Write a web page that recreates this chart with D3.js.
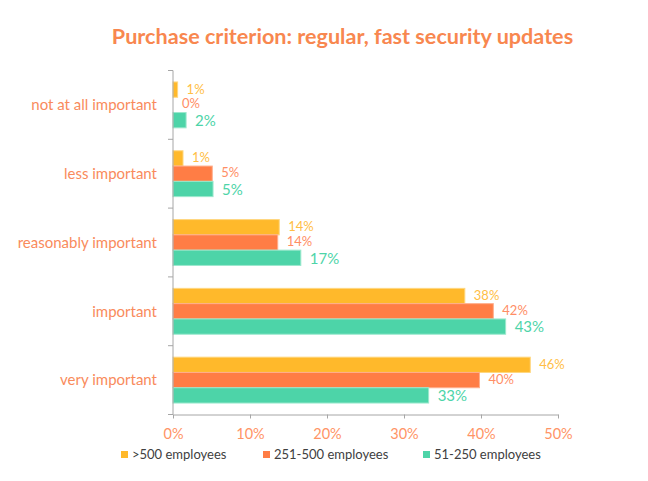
<!DOCTYPE html>
<html><head><meta charset="utf-8">
<script src="https://cdn.jsdelivr.net/npm/d3@7"></script>
<style>body{margin:0;background:#fff}svg{display:block}</style>
</head><body>
<svg id="chart" width="648" height="481"></svg>
<script>
const categories = ["not at all important","less important","reasonably important","important","very important"];
const seriesNames = [">500 employees","251-500 employees","51-250 employees"];
const values500 = [0.6, 1.3, 13.8, 37.9, 46.4];
const values251 = [0, 5.1, 13.6, 41.6, 39.8];
const values51 = [1.7, 5.2, 16.6, 43.2, 33.2];
const labels500 = ["1%","1%","14%","38%","46%"];
const labels251 = ["0%","5%","14%","42%","40%"];
const labels51 = ["2%","5%","17%","43%","33%"];
const xTicks = [0,10,20,30,40,50];

const series = [
  {name: seriesNames[0], values: values500, labels: labels500, fill:"#FFB92B", stroke:"#FFD77F", text:"#FFBE45", size:13, dy:-0.5},
  {name: seriesNames[1], values: values251, labels: labels251, fill:"#FF7D45", stroke:"#FFAE8C", text:"#FF8E65", size:13, dy:-1},
  {name: seriesNames[2], values: values51, labels: labels51, fill:"#4DD4A8", stroke:"#9BE8CD", text:"#4DD4A8", size:15, dy:0.5}
];

const font = "Lato, 'Open Sans', sans-serif";
const svg = d3.select("#chart");
const x = d3.scaleLinear().domain([0,50]).range([173,558]);
const y = d3.scaleBand().domain(categories).range([70.5,414.5]).padding(0);
const yi = d3.scaleBand().domain(seriesNames).range([0,y.bandwidth()]).paddingInner(0).paddingOuter(0.75);

svg.append("text").attr("x",342.5).attr("y",43.5).attr("text-anchor","middle")
  .attr("font-family",font).attr("font-weight","bold").attr("font-size",21.6)
  .attr("fill","#F8874F").text("Purchase criterion: regular, fast security updates");

// bars
series.forEach(s => {
  const g = svg.append("g");
  g.selectAll("rect").data(categories).join("rect")
    .attr("x", x(0))
    .attr("y", (c)=> y(c)+yi(s.name))
    .attr("width", (c,i)=> Math.max(0, x(s.values[i])-x(0)))
    .attr("height", yi.bandwidth())
    .attr("fill", s.fill)
    .attr("stroke", (c,i)=> s.values[i] > 0 ? s.stroke : "none").attr("stroke-width",1);
  g.selectAll("text").data(categories).join("text")
    .attr("x", (c,i)=> x(s.values[i]) + 9)
    .attr("y", (c)=> y(c)+yi(s.name)+yi.bandwidth()/2 + s.dy)
    .attr("dy","0.35em")
    .attr("font-family",font).attr("font-size",s.size).attr("fill",s.text)
    .text((c,i)=> s.labels[i]);
});

// x axis
const xAxis = svg.append("g").attr("transform","translate(0,414.5)")
  .call(d3.axisBottom(x).tickValues(xTicks).tickSize(4).tickSizeOuter(0).tickFormat(d=>d+"%"));
xAxis.select(".domain").attr("stroke","#A6A6A6");
xAxis.selectAll(".tick line").attr("stroke","#A6A6A6");
xAxis.selectAll(".tick text").attr("font-family",font).attr("font-size",14.5).attr("fill","#FF9466").attr("dy","1.2em");

// y axis
const yAxis = svg.append("g");
yAxis.append("line").attr("x1",x(0)).attr("x2",x(0)).attr("y1",y.range()[0]).attr("y2",y.range()[1]).attr("stroke","#A6A6A6");
const bounds = categories.map(c=>y(c)).concat([y.range()[1]]);
yAxis.selectAll("line.tk").data(bounds).join("line").attr("class","tk")
  .attr("x1",x(0)-5).attr("x2",x(0)).attr("y1",d=>d).attr("y2",d=>d).attr("stroke","#A6A6A6");
yAxis.selectAll("text").data(categories).join("text")
  .attr("x",157).attr("y",c=>y(c)+y.bandwidth()/2).attr("dy","0.35em")
  .attr("text-anchor","end").attr("font-family",font).attr("font-size",15).attr("fill","#F98B5C")
  .text(c=>c);

// legend
const legX = [121, 263, 423];
const leg = svg.append("g");
series.forEach((s,i)=>{
  leg.append("rect").attr("x",legX[i]).attr("y",451).attr("width",7).attr("height",7).attr("fill",s.fill);
  leg.append("text").attr("x",legX[i]+11).attr("y",454.5).attr("dy","0.35em")
    .attr("font-family",font).attr("font-size",13).attr("fill","#404040").text(s.name);
});
</script>
</body></html>
